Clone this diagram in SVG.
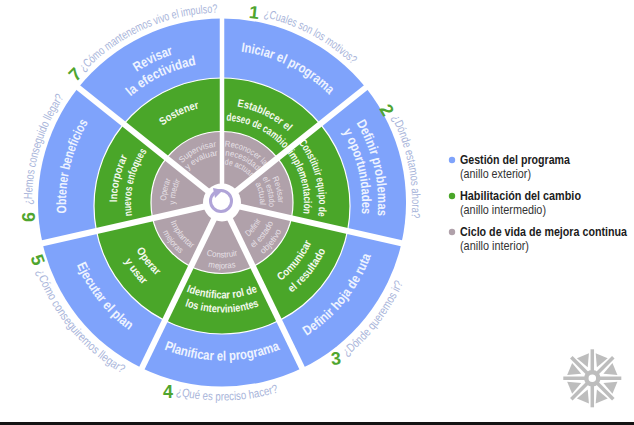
<svg xmlns="http://www.w3.org/2000/svg" width="634" height="425" viewBox="0 0 634 425">
<style>
text{font-family:"Liberation Sans",Arial,sans-serif}
.o{font-size:13.5px;font-weight:700;fill:#eef3ff;text-anchor:middle}
.m{font-size:11px;font-weight:700;fill:#f4f9ee;text-anchor:middle}
.i{font-size:8.5px;fill:#e6e0e6;text-anchor:middle}
.q{font-size:12px;fill:#a9b5da;text-anchor:middle}
.n{font-size:18px;font-weight:700;fill:#4fa52f;text-anchor:middle}
.lb{font-size:13px;font-weight:700;fill:#1c1c1c}
.ls{font-size:12.5px;fill:#333}
.b{fill:#7fa3fb}.g{fill:#4aa629}.p{fill:#b0a1aa}
</style>
<defs>
<path id="wo" d="M0,0L0,-184A184,184 0 0 1 143.9,-114.7Z"/>
<path id="wi" d="M0,0L0,-71A71,71 0 0 1 55.5,-44.3Z"/>
<path id="tri" d="M0,-12L-6.5,-24.5L6.5,-24.5Z"/>
<path id="c190" d="M222,392.5A190,190 0 1 1 222,12.5A190,190 0 1 1 222,392.5"/>
<path id="c156" d="M222,358.5A156,156 0 1 1 222,46.5A156,156 0 1 1 222,358.5"/>
<path id="c152" d="M222,354.5A152,152 0 1 1 222,50.5A152,152 0 1 1 222,354.5"/>
<path id="c140" d="M222,342.5A140,140 0 1 1 222,62.5A140,140 0 1 1 222,342.5"/>
<path id="c105" d="M222,307.5A105,105 0 1 1 222,97.5A105,105 0 1 1 222,307.5"/>
<path id="c97" d="M222,299.5A97,97 0 1 1 222,105.5A97,97 0 1 1 222,299.5"/>
<path id="c91" d="M222,293.5A91,91 0 1 1 222,111.5A91,91 0 1 1 222,293.5"/>
<path id="c82" d="M222,284.5A82,82 0 1 1 222,120.5A82,82 0 1 1 222,284.5"/>
<path id="c56" d="M222,258.5A56,56 0 1 1 222,146.5A56,56 0 1 1 222,258.5"/>
<path id="c47" d="M222,249.5A47,47 0 1 1 222,155.5A47,47 0 1 1 222,249.5"/>
<path id="c38" d="M222,240.5A38,38 0 1 1 222,164.5A38,38 0 1 1 222,240.5"/>
<path id="a198" d="M222,4.5A198,198 0 1 0 222,400.5A198,198 0 1 0 222,4.5"/>
<path id="a158" d="M222,44.5A158,158 0 1 0 222,360.5A158,158 0 1 0 222,44.5"/>
<path id="a114" d="M222,88.5A114,114 0 1 0 222,316.5A114,114 0 1 0 222,88.5"/>
<path id="a110" d="M222,92.5A110,110 0 1 0 222,312.5A110,110 0 1 0 222,92.5"/>
<path id="a98" d="M222,104.5A98,98 0 1 0 222,300.5A98,98 0 1 0 222,104.5"/>
<path id="a96" d="M222,106.5A96,96 0 1 0 222,298.5A96,96 0 1 0 222,106.5"/>
<path id="a66" d="M222,136.5A66,66 0 1 0 222,268.5A66,66 0 1 0 222,136.5"/>
<path id="a55" d="M222,147.5A55,55 0 1 0 222,257.5A55,55 0 1 0 222,147.5"/>
<path id="a43" d="M222,159.5A43,43 0 1 0 222,245.5A43,43 0 1 0 222,159.5"/>
</defs>
<rect width="634" height="425" fill="#fff"/>

<g id="anillo-exterior">
<g id="s1"><use href="#wo" class="b" transform="translate(222 202.5)"/><text class="o" transform="rotate(26 222 202.5)"><textPath href="#c152" startOffset="50%" textLength="100" lengthAdjust="spacingAndGlyphs">Iniciar el programa</textPath></text><text class="q" transform="rotate(28 222 202.5)"><textPath href="#c190" startOffset="50%" textLength="102" lengthAdjust="spacingAndGlyphs">¿Cuales son los motivos?</textPath></text><text class="n" transform="translate(253.5 18.5) rotate(6)">1</text></g>
<g id="s2"><use href="#wo" class="b" transform="translate(222 202.5) rotate(51.43)"/><text class="o" transform="rotate(77.1 222 202.5)"><textPath href="#c156" startOffset="50%" textLength="97" lengthAdjust="spacingAndGlyphs">Definir problemas</textPath></text><text class="o" transform="rotate(77.1 222 202.5)"><textPath href="#c140" startOffset="50%" textLength="86" lengthAdjust="spacingAndGlyphs">y oportunidades</textPath></text><text class="q" transform="rotate(79 222 202.5)"><textPath href="#c190" startOffset="50%" textLength="104" lengthAdjust="spacingAndGlyphs">¿Dónde estamos ahora?</textPath></text><text class="n" transform="translate(381.5 113) rotate(60)">2</text></g>
<g id="s3"><use href="#wo" class="b" transform="translate(222 202.5) rotate(102.86)"/><text class="o" transform="rotate(-51.4 222 202.5)"><textPath href="#a158" startOffset="50%" textLength="105" lengthAdjust="spacingAndGlyphs">Definir hoja de ruta</textPath></text><text class="q" transform="rotate(-52.5 222 202.5)"><textPath href="#a198" startOffset="50%" textLength="94" lengthAdjust="spacingAndGlyphs">¿Dónde queremos ir?</textPath></text><text class="n" transform="translate(336.5 364.5) rotate(-5)">3</text></g>
<g id="s4"><use href="#wo" class="b" transform="translate(222 202.5) rotate(154.29)"/><text class="o"><textPath href="#a158" startOffset="50%" textLength="119" lengthAdjust="spacingAndGlyphs">Planificar el programa</textPath></text><text class="q" transform="rotate(-1.5 222 202.5)"><textPath href="#a198" startOffset="50%" textLength="104" lengthAdjust="spacingAndGlyphs">¿Qué es preciso hacer?</textPath></text><text class="n" transform="translate(168 397.5)">4</text></g>
<g id="s5"><use href="#wo" class="b" transform="translate(222 202.5) rotate(205.71)"/><text class="o" transform="rotate(51.4 222 202.5)"><textPath href="#a158" startOffset="50%" textLength="85" lengthAdjust="spacingAndGlyphs">Ejecutar el plan</textPath></text><text class="q" transform="rotate(50 222 202.5)"><textPath href="#a198" startOffset="50%" textLength="136" lengthAdjust="spacingAndGlyphs">¿Cómo conseguiremos llegar?</textPath></text><text class="n" transform="translate(32 262) rotate(70)">5</text></g>
<g id="s6"><use href="#wo" class="b" transform="translate(222 202.5) rotate(257.14)"/><text class="o" transform="rotate(283.5 222 202.5)"><textPath href="#c156" startOffset="50%" textLength="95" lengthAdjust="spacingAndGlyphs">Obtener beneficios</textPath></text><text class="q" transform="rotate(286.5 222 202.5)"><textPath href="#c190" startOffset="50%" textLength="114" lengthAdjust="spacingAndGlyphs">¿Hemos conseguido llegar?</textPath></text><text class="n" transform="translate(34.5 217) rotate(-90)">6</text></g>
<g id="s7"><use href="#wo" class="b" transform="translate(222 202.5) rotate(308.57)"/><text class="o" transform="rotate(334.3 222 202.5)"><textPath href="#c156" startOffset="50%" textLength="41" lengthAdjust="spacingAndGlyphs">Revisar</textPath></text><text class="o" transform="rotate(334.3 222 202.5)"><textPath href="#c140" startOffset="50%" textLength="74" lengthAdjust="spacingAndGlyphs">la efectividad</textPath></text><text class="q" transform="rotate(336 222 202.5)"><textPath href="#c190" startOffset="50%" textLength="150" lengthAdjust="spacingAndGlyphs">¿Cómo mantenemos vivo el impulso?</textPath></text><text class="n" transform="translate(79.6 78.6) rotate(-45)">7</text></g>
</g>

<g id="anillo-intermedio">
<g id="m1"><path class="g" d="M222,202.5L222,78A128,128 0 0 1 320.3,124.1Z"/><text class="m" transform="rotate(26 222 202.5)"><textPath href="#c97" startOffset="50%" textLength="58" lengthAdjust="spacingAndGlyphs">Establecer el</textPath></text><text class="m" transform="rotate(26 222 202.5)"><textPath href="#c82" startOffset="50%" textLength="66" lengthAdjust="spacingAndGlyphs">deseo de cambio</textPath></text></g>
<g id="m2"><path class="g" d="M222,202.5L320.3,124.1A128,128 0 0 1 347.5,231.1Z"/><text class="m" transform="rotate(75 222 202.5)"><textPath href="#c97" startOffset="50%" textLength="78" lengthAdjust="spacingAndGlyphs">Constituir equipo de</textPath></text><text class="m" transform="rotate(75.5 222 202.5)"><textPath href="#c82" startOffset="50%" textLength="64" lengthAdjust="spacingAndGlyphs">implementación</textPath></text></g>
<g id="m3"><path class="g" d="M222,202.5L347.5,231.1A128,128 0 0 1 278.9,320.6Z"/><text class="m" transform="rotate(-51.4 222 202.5)"><textPath href="#a98" startOffset="50%" textLength="50" lengthAdjust="spacingAndGlyphs">Comunicar</textPath></text><text class="m" transform="rotate(-51.4 222 202.5)"><textPath href="#a114" startOffset="50%" textLength="55" lengthAdjust="spacingAndGlyphs">el resultado</textPath></text></g>
<g id="m4"><path class="g" d="M222,202.5L278.9,320.6A128,128 0 0 1 165.1,320.6Z"/><text class="m"><textPath href="#a96" startOffset="50%" textLength="73" lengthAdjust="spacingAndGlyphs">Identificar rol de</textPath></text><text class="m"><textPath href="#a110" startOffset="50%" textLength="76" lengthAdjust="spacingAndGlyphs">los intervinientes</textPath></text></g>
<g id="m5"><path class="g" d="M222,202.5L165.1,320.6A128,128 0 0 1 96.5,231.1Z"/><text class="m" transform="rotate(51.4 222 202.5)"><textPath href="#a98" startOffset="50%" textLength="33" lengthAdjust="spacingAndGlyphs">Operar</textPath></text><text class="m" transform="rotate(51.4 222 202.5)"><textPath href="#a114" startOffset="50%" textLength="31" lengthAdjust="spacingAndGlyphs">y usar</textPath></text></g>
<g id="m6"><path class="g" d="M222,202.5L96.5,231.1A128,128 0 0 1 123.7,124.1Z"/><text class="m" transform="rotate(283 222 202.5)"><textPath href="#c105" startOffset="50%" textLength="47" lengthAdjust="spacingAndGlyphs">Incorporar</textPath></text><text class="m" transform="rotate(283 222 202.5)"><textPath href="#c91" startOffset="50%" textLength="68" lengthAdjust="spacingAndGlyphs">nuevos enfoques</textPath></text></g>
<g id="m7"><path class="g" d="M222,202.5L123.7,124.1A128,128 0 0 1 222,78Z"/><text class="m" transform="rotate(334.3 222 202.5)"><textPath href="#c97" startOffset="50%" textLength="41" lengthAdjust="spacingAndGlyphs">Sostener</textPath></text></g>
</g>

<g id="anillo-interior">
<g id="i1"><use href="#wi" class="p" transform="translate(222 202.5)"/><text class="i" transform="rotate(25.7 222 202.5)"><textPath href="#c56" startOffset="50%" textLength="45" lengthAdjust="spacingAndGlyphs">Reconocer la</textPath></text><text class="i" transform="rotate(25.7 222 202.5)"><textPath href="#c47" startOffset="50%" textLength="36" lengthAdjust="spacingAndGlyphs">necesidad</textPath></text><text class="i" transform="rotate(25.7 222 202.5)"><textPath href="#c38" startOffset="50%" textLength="29" lengthAdjust="spacingAndGlyphs">de actuar</textPath></text></g>
<g id="i2"><use href="#wi" class="p" transform="translate(222 202.5) rotate(51.43)"/><text class="i" transform="rotate(77.1 222 202.5)"><textPath href="#c56" startOffset="50%" textLength="26" lengthAdjust="spacingAndGlyphs">Revisar</textPath></text><text class="i" transform="rotate(77.1 222 202.5)"><textPath href="#c47" startOffset="50%" textLength="30" lengthAdjust="spacingAndGlyphs">el estado</textPath></text><text class="i" transform="rotate(77.1 222 202.5)"><textPath href="#c38" startOffset="50%" textLength="22" lengthAdjust="spacingAndGlyphs">actual</textPath></text></g>
<g id="i3"><use href="#wi" class="p" transform="translate(222 202.5) rotate(102.86)"/><text class="i" transform="rotate(-51.4 222 202.5)"><textPath href="#a43" startOffset="50%" textLength="21" lengthAdjust="spacingAndGlyphs">Definir</textPath></text><text class="i" transform="rotate(-51.4 222 202.5)"><textPath href="#a55" startOffset="50%" textLength="33" lengthAdjust="spacingAndGlyphs">el estado</textPath></text><text class="i" transform="rotate(-51.4 222 202.5)"><textPath href="#a66" startOffset="50%" textLength="30" lengthAdjust="spacingAndGlyphs">objetivo</textPath></text></g>
<g id="i4"><use href="#wi" class="p" transform="translate(222 202.5) rotate(154.29)"/><text class="i"><textPath href="#a55" startOffset="50%" textLength="32" lengthAdjust="spacingAndGlyphs">Construir</textPath></text><text class="i"><textPath href="#a66" startOffset="50%" textLength="28" lengthAdjust="spacingAndGlyphs">mejoras</textPath></text></g>
<g id="i5"><use href="#wi" class="p" transform="translate(222 202.5) rotate(205.71)"/><text class="i" transform="rotate(51.4 222 202.5)"><textPath href="#a55" startOffset="50%" textLength="35" lengthAdjust="spacingAndGlyphs">Implantar</textPath></text><text class="i" transform="rotate(51.4 222 202.5)"><textPath href="#a66" startOffset="50%" textLength="28" lengthAdjust="spacingAndGlyphs">mejoras</textPath></text></g>
<g id="i6"><use href="#wi" class="p" transform="translate(222 202.5) rotate(257.14)"/><text class="i" transform="rotate(282.9 222 202.5)"><textPath href="#c56" startOffset="50%" textLength="22" lengthAdjust="spacingAndGlyphs">Operar</textPath></text><text class="i" transform="rotate(282.9 222 202.5)"><textPath href="#c47" startOffset="50%" textLength="25" lengthAdjust="spacingAndGlyphs">y medir</textPath></text></g>
<g id="i7"><use href="#wi" class="p" transform="translate(222 202.5) rotate(308.57)"/><text class="i" transform="rotate(334.3 222 202.5)"><textPath href="#c56" startOffset="50%" textLength="39" lengthAdjust="spacingAndGlyphs">Supervisar</textPath></text><text class="i" transform="rotate(334.3 222 202.5)"><textPath href="#c47" startOffset="50%" textLength="34" lengthAdjust="spacingAndGlyphs">y evaluar</textPath></text></g>
</g>

<g id="connectors" fill="none" stroke="#fff">
<circle cx="222" cy="206" r="128" stroke-width="1.2"/>
<circle cx="222" cy="202.5" r="71" stroke-width="1.2"/>
<g stroke-width="6">
<line x1="222" y1="202.5" x2="222" y2="14" stroke-width="4.5"/>
<line x1="222" y1="202.5" x2="369" y2="85"/>
<line x1="222" y1="202.5" x2="407" y2="244.5"/>
<line x1="222" y1="202.5" x2="304" y2="372"/>
<line x1="222" y1="202.5" x2="140" y2="372"/>
<line x1="222" y1="202.5" x2="37" y2="244.5"/>
<line x1="222" y1="202.5" x2="75" y2="85"/>
</g>
</g>

<g id="centro">
<circle cx="222" cy="202.5" r="19" fill="#fff"/>
<circle cx="221" cy="201" r="10.5" fill="none" stroke="#b0a4d8" stroke-width="3"/>
<path d="M213,188L223,190L215,198Z" fill="#b0a4d8"/>
</g>

<g id="leyenda">
<circle cx="452" cy="160" r="3.2" fill="#7fa3fb"/>
<text class="lb" transform="translate(460 164) scale(.83 1)" textLength="132.5" lengthAdjust="spacingAndGlyphs">Gestión del programa</text>
<text class="ls" transform="translate(460 178) scale(.83 1)" textLength="85.5" lengthAdjust="spacingAndGlyphs">(anillo exterior)</text>
<circle cx="452" cy="196" r="3.2" fill="#4aa629"/>
<text class="lb" transform="translate(460 200) scale(.83 1)" textLength="145.8" lengthAdjust="spacingAndGlyphs">Habilitación del cambio</text>
<text class="ls" transform="translate(460 214) scale(.83 1)" textLength="103.6" lengthAdjust="spacingAndGlyphs">(anillo intermedio)</text>
<circle cx="452" cy="232" r="3.2" fill="#b0a1aa"/>
<text class="lb" transform="translate(460 236) scale(.83 1)" textLength="201.2" lengthAdjust="spacingAndGlyphs">Ciclo de vida de mejora continua</text>
<text class="ls" transform="translate(460 250) scale(.83 1)" textLength="83.1" lengthAdjust="spacingAndGlyphs">(anillo interior)</text>
</g>

<g id="logo" transform="translate(592.3 378.3)">
<g fill="#bdbdbd">
<use href="#tri" transform="rotate(22.5)"/>
<use href="#tri" transform="rotate(67.5)"/>
<use href="#tri" transform="rotate(112.5)"/>
<use href="#tri" transform="rotate(157.5)"/>
<use href="#tri" transform="rotate(202.5)"/>
<use href="#tri" transform="rotate(247.5)"/>
<use href="#tri" transform="rotate(292.5)"/>
<use href="#tri" transform="rotate(337.5)"/>
</g>
<g stroke="#bdbdbd" stroke-width="3.5">
<line x1="-29" y1="0" x2="29" y2="0"/>
<line x1="0" y1="-29" x2="0" y2="29"/>
<line x1="-21" y1="-21" x2="21" y2="21"/>
<line x1="-21" y1="21" x2="21" y2="-21"/>
</g>
<circle r="6" fill="#fff" stroke="#bdbdbd" stroke-width="4.5"/>
</g>

<rect id="barra" x="0" y="422" width="634" height="3" fill="#141414"/>
</svg>
